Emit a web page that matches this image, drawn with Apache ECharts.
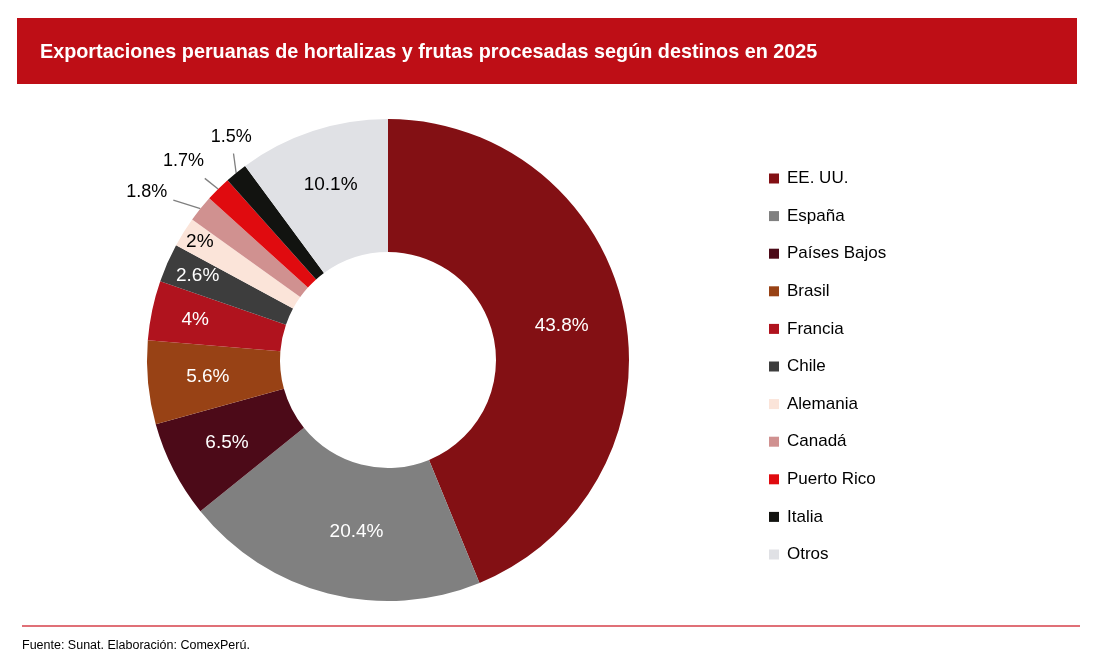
<!DOCTYPE html>
<html>
<head>
<meta charset="utf-8">
<script src="https://cdn.jsdelivr.net/npm/echarts@6/dist/echarts.min.js"></script>
<style>
  html, body { margin: 0; padding: 0; background: #fff; }
  #chartmain { width: 1102px; height: 671px; }
</style>
</head>
<body>
<div id="chartmain"></div>
<script>
// datos del gráfico
var paises = ['EE. UU.', 'España', 'Países Bajos', 'Brasil', 'Francia', 'Chile',
              'Alemania', 'Canadá', 'Puerto Rico', 'Italia', 'Otros'];
var participacion = [43.8, 20.4, 6.5, 5.6, 4, 2.6, 2, 1.8, 1.7, 1.5, 10.1];
var etiquetaFuera = ['Canadá', 'Puerto Rico', 'Italia'];
var etiquetaOscura = ['Alemania', 'Otros'];

var colores = ['#831014', '#808080', '#4c0a18', '#984215', '#b0131e', '#3d3d3d',
               '#fbe4d9', '#d09190', '#e00b0f', '#121310', '#e0e1e5'];
var fuente = "'Liberation Sans', Arial, sans-serif";

// geometría del anillo
var centro = [388, 360];
var radioIn = 108, radioOut = 241;
// ajustes de etiquetas (radio del centro del texto y giro en grados respecto al centro del sector)
var ajusteEtiquetas = {
  'EE. UU.': { radio: 177 },
  'España': { giro: -4 },
  'Países Bajos': { radio: 181 },
  'Brasil': { radio: 181 },
  'Francia': { radio: 197 },
  'Chile': { radio: 208 },
  'Alemania': { radio: 222 },
  'Canadá': { radio: 294, giro: -4 },
  'Puerto Rico': { radio: 285, giro: -1 },
  'Italia': { radio: 273, giro: 4 },
  'Otros': { radio: 184 }
};

var total = 0;
for (var k = 0; k < participacion.length; k++) total += participacion[k];

var datos = [];
for (var i = 0; i < paises.length; i++) {
  var item = { name: paises[i], value: participacion[i] };
  if (etiquetaFuera.indexOf(paises[i]) >= 0) {
    item.label = { position: 'outside', color: '#000', fontSize: 18 };
    item.labelLine = { show: true };
  } else if (etiquetaOscura.indexOf(paises[i]) >= 0) {
    item.label = { color: '#000' };
  }
  datos.push(item);
}

function ubicarEtiqueta(params) {
  var idx = params.dataIndex;
  var acum = 0;
  for (var j = 0; j < idx; j++) acum += participacion[j];
  var aj = ajusteEtiquetas[paises[idx]] || {};
  var medio = (acum + participacion[idx] / 2) / total * 360 * Math.PI / 180;
  var ang = medio + (aj.giro || 0) * Math.PI / 180;
  var r = aj.radio || (radioIn + radioOut) / 2;
  var cx = centro[0] + r * Math.sin(ang);
  var cy = centro[1] - r * Math.cos(ang);
  var res = { x: cx, y: cy, align: 'center', verticalAlign: 'middle' };
  if (etiquetaFuera.indexOf(paises[idx]) >= 0) {
    // línea guía desde el borde del sector hasta cerca del texto
    var sx = centro[0] + radioOut * Math.sin(medio);
    var sy = centro[1] - radioOut * Math.cos(medio);
    var dx = sx - cx, dy = sy - cy;
    var hw = params.labelRect.width / 2 + 6, hh = params.labelRect.height / 2 + 8;
    var t = Math.min(hw / Math.abs(dx), hh / Math.abs(dy));
    res.labelLinePoints = [[sx, sy], [cx + dx * t, cy + dy * t]];
  }
  return res;
}

var option = {
  animation: false,
  color: colores,
  graphic: [
    { type: 'rect', shape: { x: 17, y: 18, width: 1060, height: 66 }, style: { fill: '#be0e16' } },
    { type: 'text', x: 40, y: 53,
      style: { text: 'Exportaciones peruanas de hortalizas y frutas procesadas según destinos en 2025',
               fill: '#fff', font: 'bold 19.8px ' + fuente, verticalAlign: 'middle' } },
    { type: 'line', shape: { x1: 22, y1: 626, x2: 1080, y2: 626 },
      style: { stroke: '#d6404a', lineWidth: 1.5 } },
    { type: 'text', x: 22, y: 646,
      style: { text: 'Fuente: Sunat. Elaboración: ComexPerú.', fill: '#000',
               font: '12.5px ' + fuente, verticalAlign: 'middle' } }
  ],
  legend: {
    orient: 'vertical',
    left: 764,
    top: 163.5,
    icon: 'rect',
    itemWidth: 10,
    itemHeight: 10,
    itemGap: 17.6,
    data: paises,
    textStyle: { fontFamily: fuente, fontSize: 17, color: '#000', lineHeight: 20, padding: [0, 0, 0, 3] }
  },
  series: [{
    type: 'pie',
    center: centro,
    radius: [radioIn, radioOut],
    startAngle: 90,
    clockwise: true,
    avoidLabelOverlap: false,
    label: {
      show: true,
      position: 'inside',
      formatter: '{c}%',
      color: '#fff',
      fontFamily: fuente,
      fontSize: 19
    },
    labelLine: { show: false, length: 10, length2: 0, lineStyle: { color: '#7f7f7f', width: 1.3 } },
    labelLayout: ubicarEtiqueta,
    emphasis: { disabled: true },
    data: datos
  }]
};

var myChart = echarts.init(document.getElementById('chartmain'));
myChart.setOption(option);
</script>
</body>
</html>
